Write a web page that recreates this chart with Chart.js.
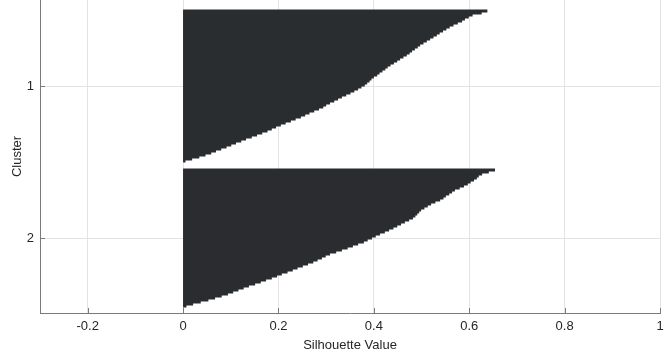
<!DOCTYPE html>
<html>
<head>
<meta charset="utf-8">
<script src="https://cdn.jsdelivr.net/npm/chart.js@4/dist/chart.umd.min.js"></script>
<style>
  html, body { margin: 0; padding: 0; background: #ffffff; }
  #wrap { width: 670px; height: 355px; }
</style>
</head>
<body>
<div id="wrap"><canvas id="c" width="670" height="355"></canvas></div>
<script>
// ---- data ----
const clusterLabels = ['1', '2'];

// silhouette values of cluster 1, sorted descending (top to bottom)
const cluster1Values = [
  0.637, 0.625, 0.606, 0.598, 0.590, 0.584, 0.575, 0.566, 0.558, 0.551,
  0.544, 0.537, 0.531, 0.524, 0.517, 0.510, 0.503, 0.496, 0.491, 0.485,
  0.479, 0.474, 0.468, 0.461, 0.454, 0.448, 0.441, 0.434, 0.428, 0.423,
  0.417, 0.411, 0.406, 0.399, 0.394, 0.390, 0.385, 0.380, 0.373, 0.366,
  0.358, 0.350, 0.341, 0.332, 0.324, 0.316, 0.307, 0.299, 0.293, 0.284,
  0.274, 0.264, 0.255, 0.246, 0.235, 0.225, 0.214, 0.204, 0.194, 0.185,
  0.176, 0.165, 0.154, 0.143, 0.131, 0.121, 0.110, 0.100, 0.090, 0.079,
  0.068, 0.058, 0.046, 0.033, 0.018, 0.004
];

// silhouette values of cluster 2, sorted descending (top to bottom)
const cluster2Values = [
  0.653, 0.640, 0.626, 0.619, 0.615, 0.609, 0.602, 0.596, 0.588, 0.579,
  0.569, 0.563, 0.557, 0.550, 0.545, 0.538, 0.528, 0.519, 0.512, 0.505,
  0.498, 0.494, 0.490, 0.486, 0.481, 0.473, 0.464, 0.456, 0.448, 0.440,
  0.431, 0.422, 0.412, 0.403, 0.395, 0.386, 0.378, 0.366, 0.355, 0.344,
  0.332, 0.320, 0.307, 0.298, 0.290, 0.281, 0.272, 0.261, 0.250, 0.239,
  0.229, 0.218, 0.206, 0.196, 0.185, 0.173, 0.162, 0.150, 0.137, 0.126,
  0.115, 0.104, 0.093, 0.080, 0.066, 0.052, 0.036, 0.020, 0.006
];

const xTickValues = [-0.2, 0, 0.2, 0.4, 0.6, 0.8, 1];
const xLabel = 'Silhouette Value';
const yLabel = 'Cluster';

// ---- build the table for the library ----
const clusters = [cluster1Values, cluster2Values];
const gapRows = 3.5;
const points = [];
const centers = [];
let start = 0.5;
clusters.forEach((vals, ci) => {
  vals.forEach((v, i) => points.push({ x: v, y: start + 0.5 + i }));
  centers.push(start + vals.length / 2);
  start += vals.length + gapRows;
});
const yMin = -4.5;
const yMax = start - gapRows + 3;

const textColor = '#262626';
const axisColor = '#7a7a7a';
const gridColor = '#e3e3e3';
const fontFamily = '"Liberation Sans", Arial, Helvetica, sans-serif';

const inwardTicks = {
  id: 'inwardTicks',
  afterDraw(chart) {
    const ctx = chart.ctx;
    const xs = chart.scales.x, ys = chart.scales.y;
    const area = chart.chartArea;
    ctx.save();
    ctx.strokeStyle = axisColor;
    ctx.lineWidth = 1;
    ctx.beginPath();
    xTickValues.forEach(v => {
      const px = Math.round(xs.getPixelForValue(v)) + 0.5;
      if (px < area.left || px > area.right + 1) return;
      ctx.moveTo(px, area.bottom);
      ctx.lineTo(px, area.bottom - 5);
    });
    centers.forEach(c => {
      const py = Math.round(ys.getPixelForValue(c)) + 0.5;
      ctx.moveTo(area.left, py);
      ctx.lineTo(area.left + 5, py);
    });
    ctx.stroke();
    ctx.restore();
  }
};

new Chart(document.getElementById('c'), {
  type: 'bar',
  data: {
    datasets: [{
      data: points,
      backgroundColor: '#2a2d30',
      borderWidth: 0,
      barThickness: 2,
      inflateAmount: 0.5
    }]
  },
  options: {
    indexAxis: 'y',
    responsive: false,
    devicePixelRatio: 1,
    animation: false,
    layout: { padding: { top: 0, right: 10, left: 0, bottom: 0 } },
    plugins: { legend: { display: false }, tooltip: { enabled: false }, title: { display: false } },
    scales: {
      x: {
        type: 'linear',
        min: -0.3,
        max: 1,
        afterBuildTicks: s => { s.ticks = xTickValues.map(v => ({ value: v })); },
        afterFit: s => { s.height = 42; s.paddingLeft = 0; s.paddingRight = 0; },
        grid: { color: gridColor, drawTicks: false, lineWidth: 1 },
        border: { color: axisColor, width: 1 },
        ticks: {
          color: textColor,
          font: { family: fontFamily, size: 13 },
          padding: 6,
          maxRotation: 0,
          callback: v => String(Number(v.toFixed(1)))
        },
        title: {
          display: true,
          text: xLabel,
          color: textColor,
          font: { family: fontFamily, size: 13 },
          padding: { top: 0, bottom: 2 }
        }
      },
      y: {
        type: 'linear',
        reverse: true,
        offset: false,
        min: yMin,
        max: yMax,
        afterBuildTicks: s => { s.ticks = centers.map(c => ({ value: c })); },
        afterFit: s => { s.width = 40; s.paddingTop = 0; s.paddingBottom = 0; },
        grid: { color: gridColor, drawTicks: false, lineWidth: 1, offset: false },
        border: { color: axisColor, width: 1 },
        ticks: {
          color: textColor,
          font: { family: fontFamily, size: 13 },
          padding: 6,
          callback: (v, i) => clusterLabels[i]
        },
        title: {
          display: true,
          text: yLabel,
          color: textColor,
          font: { family: fontFamily, size: 13 },
          padding: { top: 10, bottom: 0 }
        }
      }
    }
  },
  plugins: [inwardTicks]
});
</script>
</body>
</html>
